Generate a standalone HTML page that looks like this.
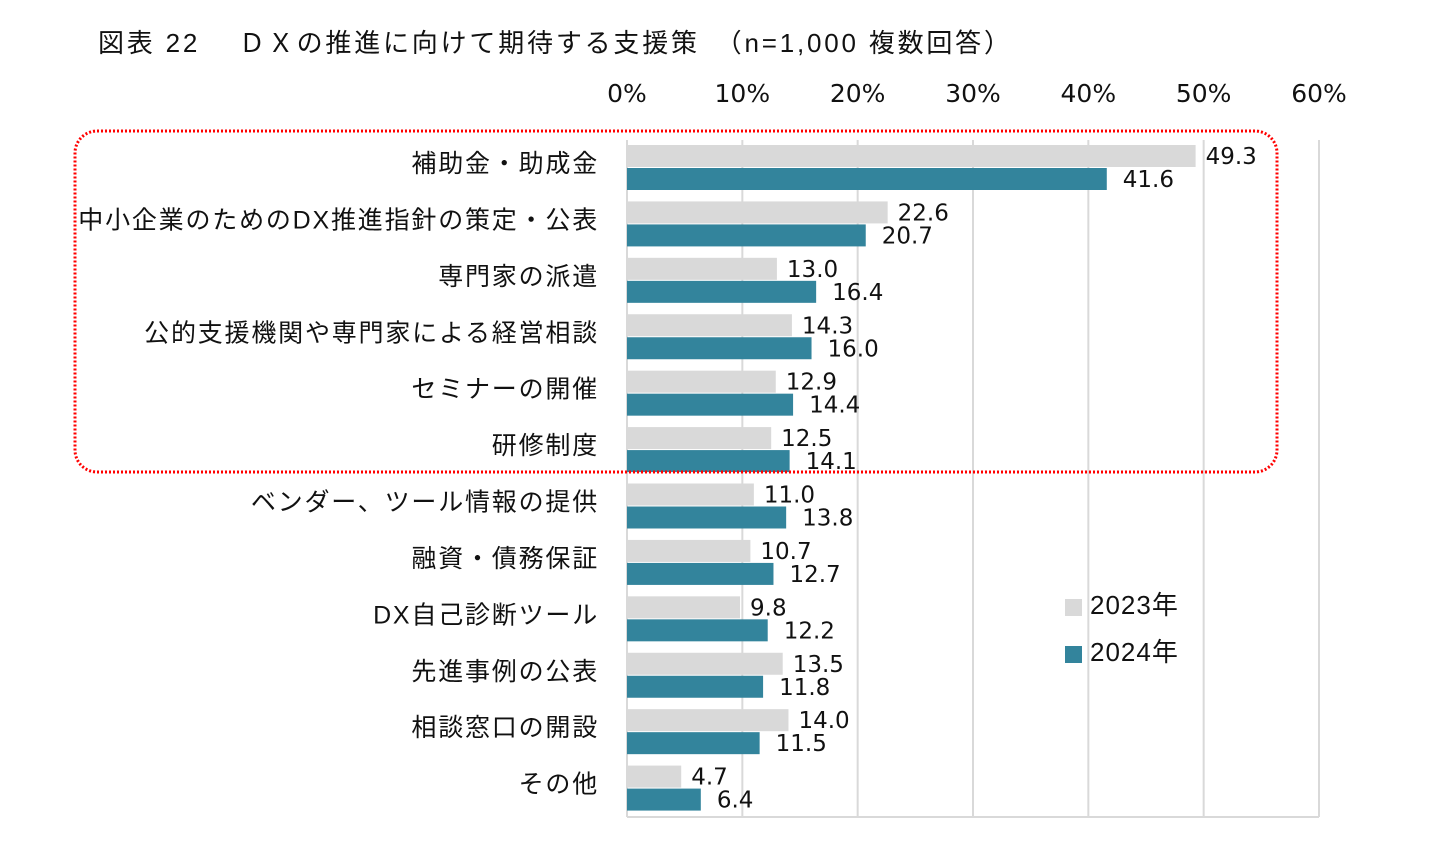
<!DOCTYPE html>
<html><head><meta charset="utf-8"><style>
body{margin:0;background:#fff;width:1444px;height:860px;overflow:hidden}
svg text{font-family:"DejaVu Sans","Liberation Sans","Noto Sans CJK JP",sans-serif;fill:#111}
.jp{font-family:"Liberation Sans","Noto Sans CJK JP",sans-serif}
</style></head><body>
<svg id="chart" width="1444" height="860">
<text class="jp" x="98" y="52" font-size="26" textLength="912" lengthAdjust="spacing">図表 22　 ＤＸの推進に向けて期待する支援策　（n=1,000  複数回答）</text>
<g id="grid"></g><g id="bars"></g><g id="labels"></g>
<rect x="75" y="131" width="1202" height="341" rx="22" fill="none" stroke="#f00" stroke-width="3" stroke-dasharray="2 2"/>
<rect x="1065" y="599" width="17" height="17" fill="#d9d9d9"/>
<text class="jp" x="1090" y="614" font-size="26" letter-spacing="1">2023年</text>
<rect x="1065" y="646" width="17" height="17" fill="#33849c"/>
<text class="jp" x="1090" y="661" font-size="26" letter-spacing="1">2024年</text>
</svg>
<script>
const categories=["補助金・助成金","中小企業のためのDX推進指針の策定・公表","専門家の派遣","公的支援機関や専門家による経営相談","セミナーの開催","研修制度","ベンダー、ツール情報の提供","融資・債務保証","DX自己診断ツール","先進事例の公表","相談窓口の開設","その他"];
const values2023=[49.3,22.6,13.0,14.3,12.9,12.5,11.0,10.7,9.8,13.5,14.0,4.7];
const values2024=[41.6,20.7,16.4,16.0,14.4,14.1,13.8,12.7,12.2,11.8,11.5,6.4];
const ticks=[0,10,20,30,40,50,60];
const NS="http://www.w3.org/2000/svg";
const x0=627,x1=1319,yTop=140,yBot=817,band=(yBot-yTop)/categories.length;
const xs=v=>x0+(v/60)*(x1-x0);
function mk(tag,attrs,parent){const e=document.createElementNS(NS,tag);for(const k in attrs)e.setAttribute(k,attrs[k]);parent.appendChild(e);return e;}
const grid=document.getElementById('grid'),bars=document.getElementById('bars'),labels=document.getElementById('labels');
ticks.forEach(t=>{
 const l=mk('line',{x1:xs(t),x2:xs(t),y1:yTop,y2:yBot,stroke:'#d9d9d9','stroke-width':2},grid);
 
 
 const tx=mk('text',{x:xs(t),y:102,'font-size':25,'text-anchor':'middle'},grid);
 tx.textContent=t+'%';
 
 
});
const bl=mk('line',{x1:x0,x2:x1,y1:yBot,y2:yBot,stroke:'#d9d9d9','stroke-width':2},grid);


categories.forEach((c,i)=>{
 const y=yTop+i*band;
 const lab=mk('text',{x:599,y:y+32,'font-size':25,'letter-spacing':1.8,'text-anchor':'end',class:'jp'},labels);
 lab.textContent=c;
 
 
 const g=mk('rect',{x:x0,y:y+5,width:xs(values2023[i])-x0,height:22,fill:'#d9d9d9'},bars);
 
 
 const b=mk('rect',{x:x0,y:y+28,width:xs(values2024[i])-x0,height:22,fill:'#33849c'},bars);
 
 
 const v1=mk('text',{x:xs(values2023[i])+10,y:y+24,'font-size':23},labels);
 v1.textContent=values2023[i].toFixed(1);
 
 
 const v2=mk('text',{x:xs(values2024[i])+16,y:y+47,'font-size':23},labels);
 v2.textContent=values2024[i].toFixed(1);
 
 
});
</script>
</body></html>
